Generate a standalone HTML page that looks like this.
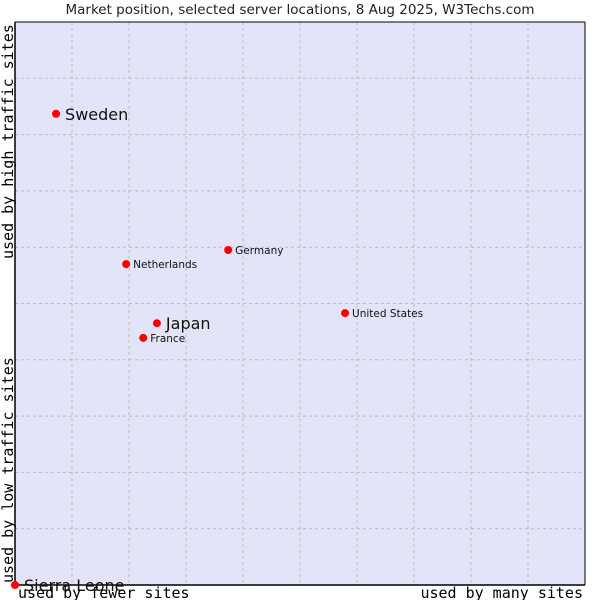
<!DOCTYPE html>
<html><head><meta charset="utf-8"><style>
body{margin:0;background:#fff;}
svg{display:block;}
</style></head><body>
<svg id="chart" width="600" height="600" xmlns="http://www.w3.org/2000/svg">
<rect x="0" y="0" width="600" height="600" fill="#fff"/>
<text x="300" y="14" text-anchor="middle" font-family="DejaVu Sans, sans-serif" font-size="13.5" fill="#222">Market position, selected server locations, 8 Aug 2025, W3Techs.com</text>
<rect x="15" y="22" width="570" height="563" fill="#e3e4f8"/>
<g id="grid"></g>
<line x1="15" y1="22" x2="15" y2="585" stroke="#000" stroke-width="1.5"/>
<line x1="15" y1="585" x2="585" y2="585" stroke="#000" stroke-width="1.5"/>
<line x1="15" y1="22" x2="585" y2="22" stroke="#000" stroke-width="1"/>
<line x1="585" y1="22" x2="585" y2="585" stroke="#000" stroke-width="1"/>
<g id="points"></g>
<text x="18" y="598" font-family="DejaVu Sans Mono, monospace" font-size="15" fill="#000">used by fewer sites</text>
<text x="583" y="598" text-anchor="end" font-family="DejaVu Sans Mono, monospace" font-size="15" fill="#000">used by many sites</text>
<text transform="translate(13,583) rotate(-90)" font-family="DejaVu Sans Mono, monospace" font-size="15" fill="#000">used by low traffic sites</text>
<text transform="translate(13,259) rotate(-90)" font-family="DejaVu Sans Mono, monospace" font-size="15" fill="#000">used by high traffic sites</text>
</svg>
<script>
const names = ["Sweden","Netherlands","Germany","United States","Japan","France","Sierra Leone"];
const xVals = [7.2,19.5,37.4,57.9,24.9,22.5,0];
const yVals = [83.7,57.0,59.5,48.3,46.5,43.9,0];
const bigLabel = [true,false,false,false,true,false,true];
const NS="http://www.w3.org/2000/svg";
const X0=15,X1=585,Y0=585,Y1=22;
function sx(v){return X0+(X1-X0)*v/100;}
function sy(v){return Y0-(Y0-Y1)*v/100;}
const grid=document.getElementById('grid');
for(let i=1;i<10;i++){
  let l=document.createElementNS(NS,'line');
  l.setAttribute('x1',sx(i*10));l.setAttribute('x2',sx(i*10));l.setAttribute('y1',Y1);l.setAttribute('y2',Y0);
  l.setAttribute('stroke','#bbb');l.setAttribute('stroke-dasharray','3,3');
  
  
  grid.appendChild(l);
  let h=document.createElementNS(NS,'line');
  h.setAttribute('x1',X0);h.setAttribute('x2',X1);h.setAttribute('y1',sy(i*10));h.setAttribute('y2',sy(i*10));
  h.setAttribute('stroke','#bbb');h.setAttribute('stroke-dasharray','3,3');
  
  
  grid.appendChild(h);
}
const pts=document.getElementById('points');
names.forEach((n,i)=>{
  const cx=sx(xVals[i]),cy=sy(yVals[i]);
  const c=document.createElementNS(NS,'circle');
  c.setAttribute('cx',cx);c.setAttribute('cy',cy);c.setAttribute('r',4);c.setAttribute('fill','#f00');
  
  
  pts.appendChild(c);
  const t=document.createElementNS(NS,'text');
  t.setAttribute('x',cx+(bigLabel[i]?9:7));
  t.setAttribute('y',cy+(bigLabel[i]?6:4));
  t.setAttribute('font-family','DejaVu Sans, sans-serif');
  t.setAttribute('font-size',bigLabel[i]?16:10.5);
  t.setAttribute('fill','#111');
  t.textContent=n;
  
  
  pts.appendChild(t);
});
</script>
</body></html>
